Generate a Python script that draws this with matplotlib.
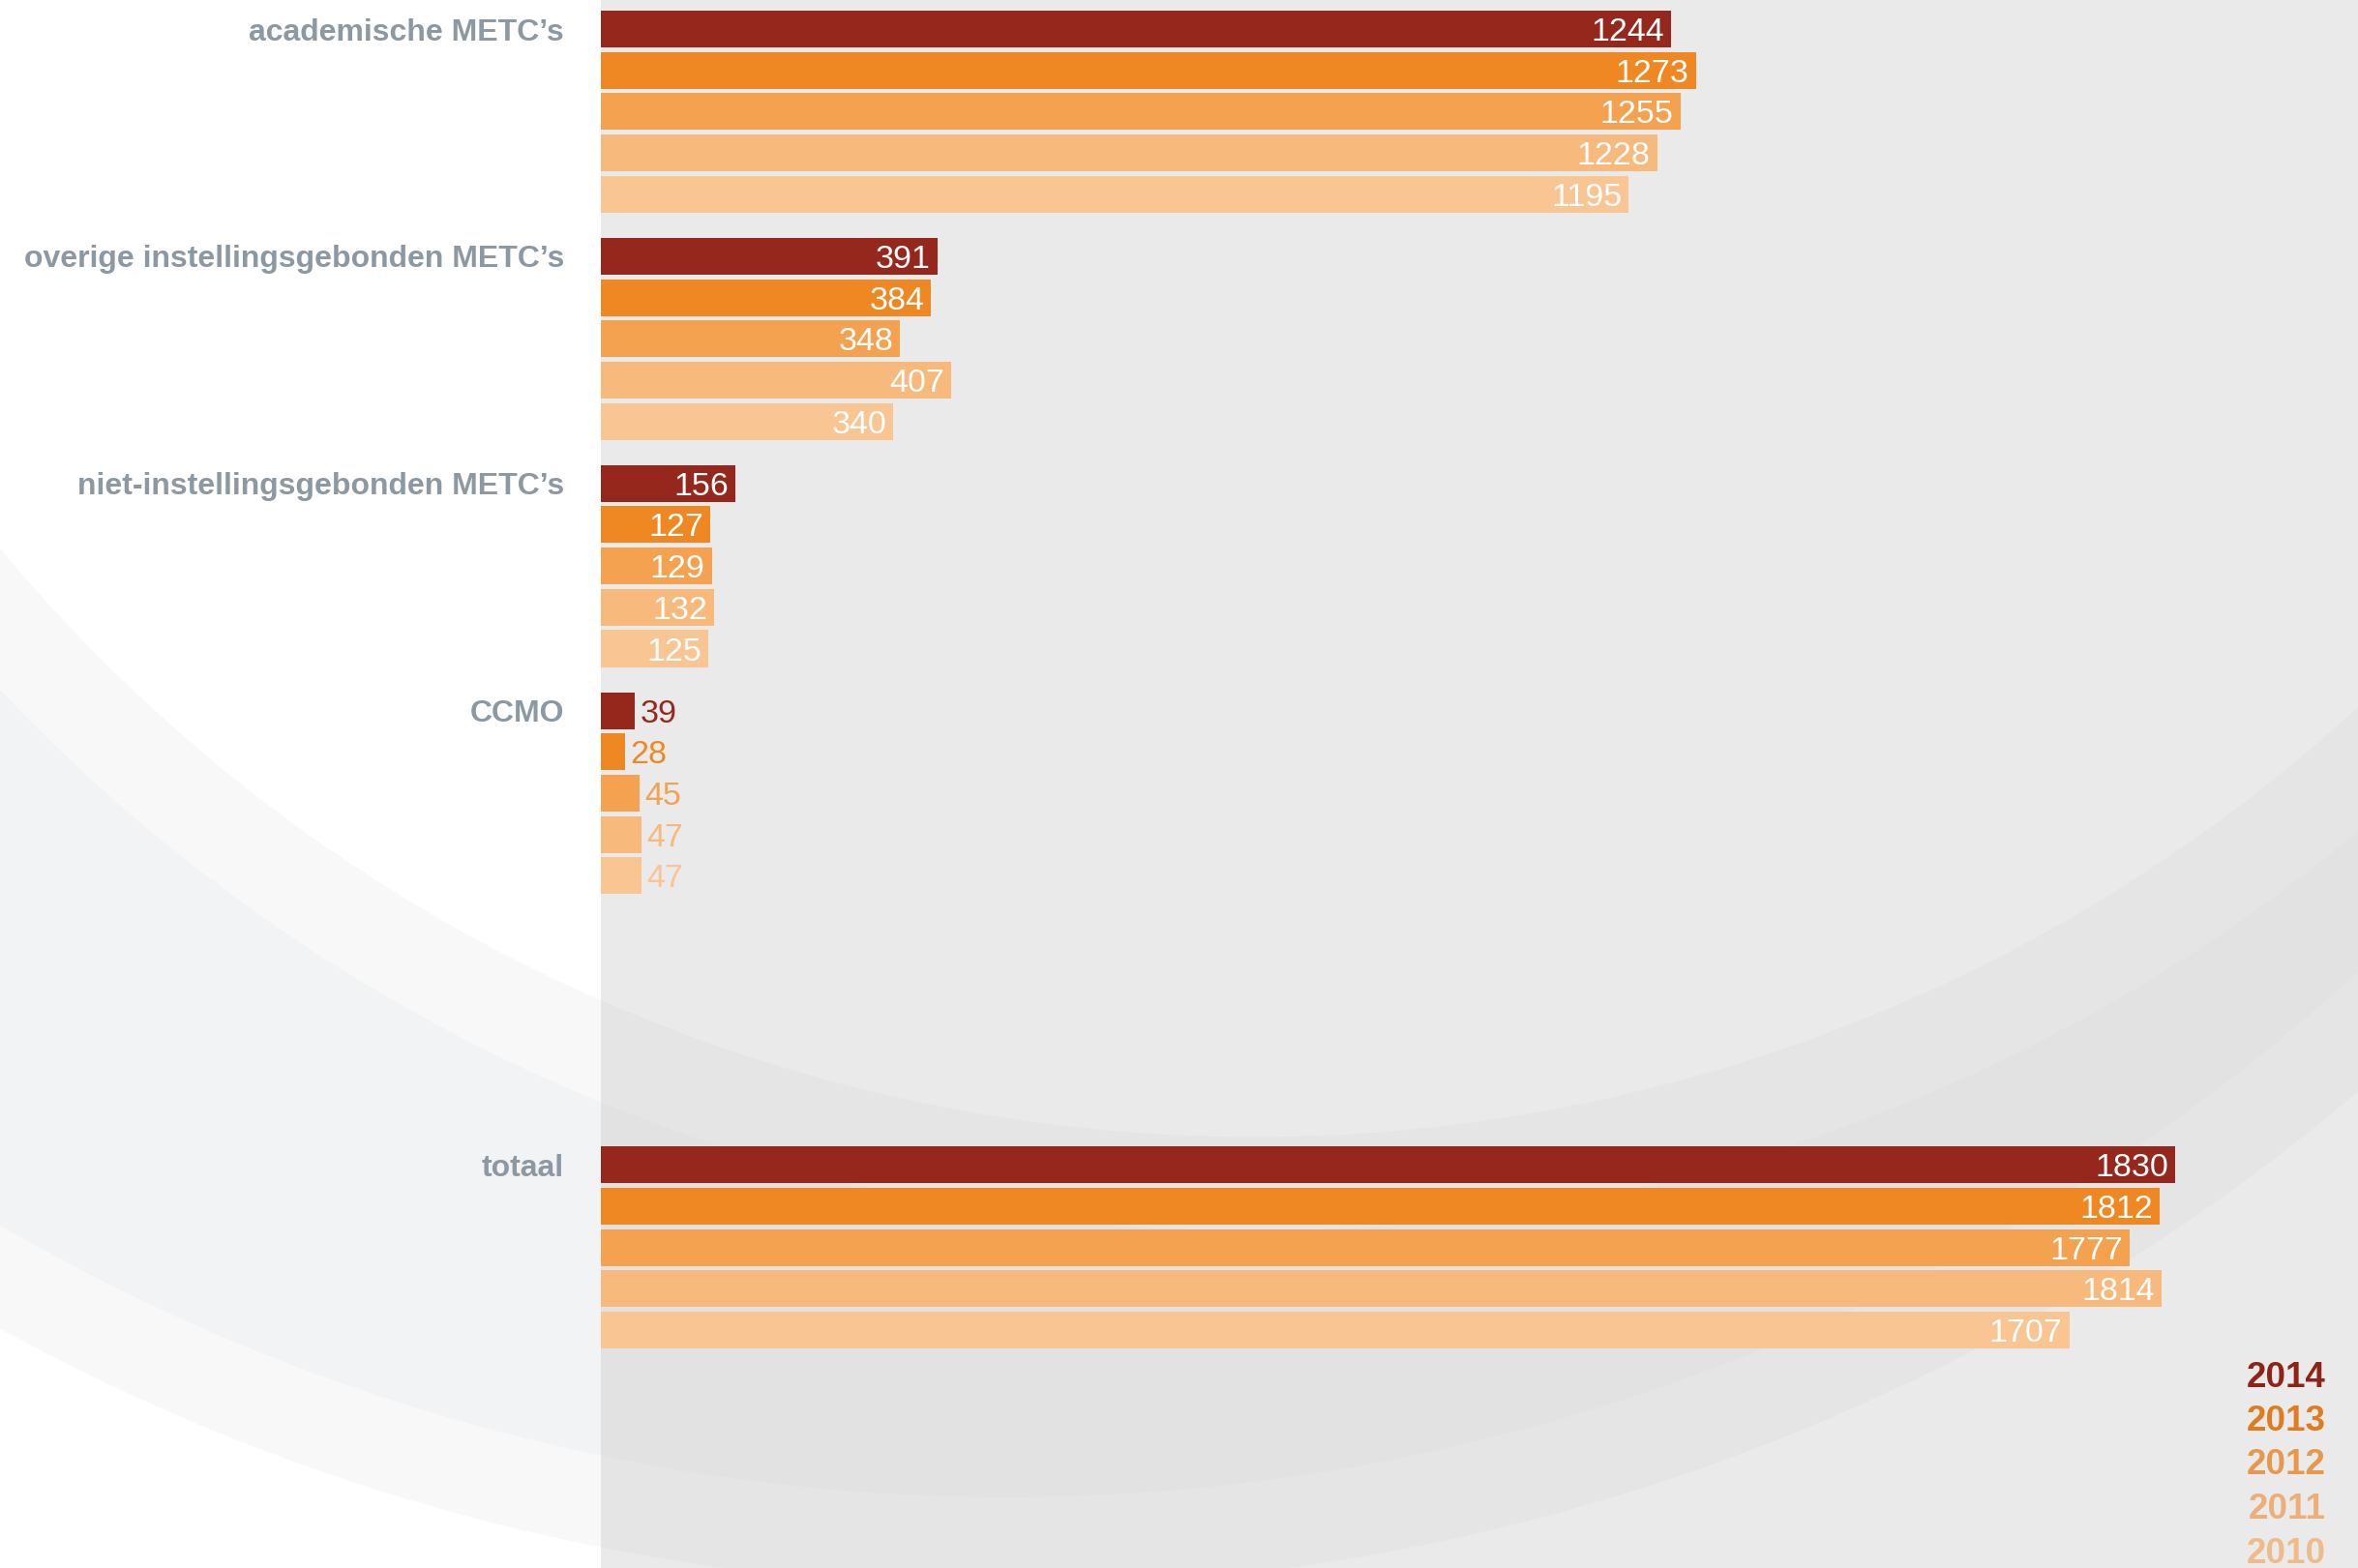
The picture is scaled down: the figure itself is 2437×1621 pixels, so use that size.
import matplotlib
matplotlib.use("Agg")
import matplotlib.pyplot as plt
import numpy as np

# data
categories = ["academische METC’s", "overige instellingsgebonden METC’s",
              "niet-instellingsgebonden METC’s", "CCMO", "totaal"]
years = ["2014", "2013", "2012", "2011", "2010"]
v2014 = [1244, 391, 156, 39, 1830]
v2013 = [1273, 384, 127, 28, 1812]
v2012 = [1255, 348, 129, 45, 1777]
v2011 = [1228, 407, 132, 47, 1814]
v2010 = [1195, 340, 125, 47, 1707]

# style
bar_colors = ["#95271c", "#ef8823", "#f4a150", "#f8b97c", "#f8c593"]
legend_colors = ["#8e2318", "#e07b1f", "#e8984d", "#ecaf78", "#eebb89"]
label_color = "#8c99a2"
FONT = ["Liberation Sans", "DejaVu Sans"]

W, H, DPI = 2437, 1621, 100
PANEL_X = 621          # left edge of the grey panel, px
PX_PER_UNIT = 0.889    # bar length scale, px per count
PITCH = 42.7           # px between bar centres
TOP = 30               # px, centre of the first bar
group_slot = [0, 1, 2, 3, 5]
GROUP_STEP = 5.5


def background():
    yy, xx = np.mgrid[0:H, 0:W].astype(float)
    d1 = np.hypot(xx - 1296, yy + 510)
    d2 = np.hypot(xx - 1040, yy + 520)

    def s(v):
        return np.clip(v + 0.5, 0, 1)

    a = s(d1 - 1685) + s(d1 - 1782)
    b = s(2160 - d2) + s(2067 - d2)
    lev = np.minimum(a, b)
    left = np.array([[255, 255, 255], [248, 248, 248], [242, 243, 244]]) / 255
    panel = np.array([[234, 234, 234], [229, 229, 229], [225, 226, 225]]) / 255
    img = np.zeros((H, W, 3))
    for pal, mask in ((left, xx < PANEL_X), (panel, xx >= PANEL_X)):
        l1 = np.minimum(lev, 1)[..., None]
        l2 = np.maximum(lev - 1, 0)[..., None]
        col = pal[0] + (pal[1] - pal[0]) * l1 + (pal[2] - pal[1]) * l2
        img[mask] = col[mask]
    return img


fig = plt.figure(figsize=(W / DPI, H / DPI), dpi=DPI)
bg = fig.add_axes([0, 0, 1, 1], zorder=0)
bg.imshow(background(), extent=(0, W, H, 0), aspect="auto", interpolation="bilinear")
bg.axis("off")

ax = fig.add_axes([PANEL_X / W, 0, 1 - PANEL_X / W, 1], zorder=1)
ax.set_facecolor("none")
ax.set_xlim(0, (W - PANEL_X) / PX_PER_UNIT)
ax.set_ylim((H - TOP) / PITCH, -TOP / PITCH)

series = [v2014, v2013, v2012, v2011, v2010]
pad_pt = 7 * 72 / DPI
for i, (vals, color) in enumerate(zip(series, bar_colors)):
    ys = [g * GROUP_STEP + i for g in group_slot]
    ax.barh(ys, vals, height=0.89, color=color, zorder=2)
    for y, v in zip(ys, vals):
        if v >= 100:
            ax.annotate(str(v), (v, y), xytext=(-pad_pt, 0), textcoords="offset points",
                        ha="right", va="center_baseline", color="white",
                        fontsize=24.5, family=FONT)
        else:
            ax.annotate(str(v), (v, y), xytext=(pad_pt * 0.8, 0), textcoords="offset points",
                        ha="left", va="center_baseline", color=color,
                        fontsize=24.5, family=FONT)

ax.set_yticks([g * GROUP_STEP for g in group_slot])
ax.set_yticklabels(categories, fontsize=23, fontweight="bold", color=label_color, family=FONT)
ax.tick_params(axis="y", length=0, pad=38 * 72 / DPI)
ax.set_xticks([])
for sp in ax.spines.values():
    sp.set_visible(False)

for i, (yr, c) in enumerate(zip(years, legend_colors)):
    fig.text(2404 / W, 1 - (1420 + i * 45.5) / H, yr, ha="right", va="center_baseline",
             fontsize=26.5, fontweight="bold", color=c, family=FONT)

fig.savefig("out.png", dpi=DPI)
